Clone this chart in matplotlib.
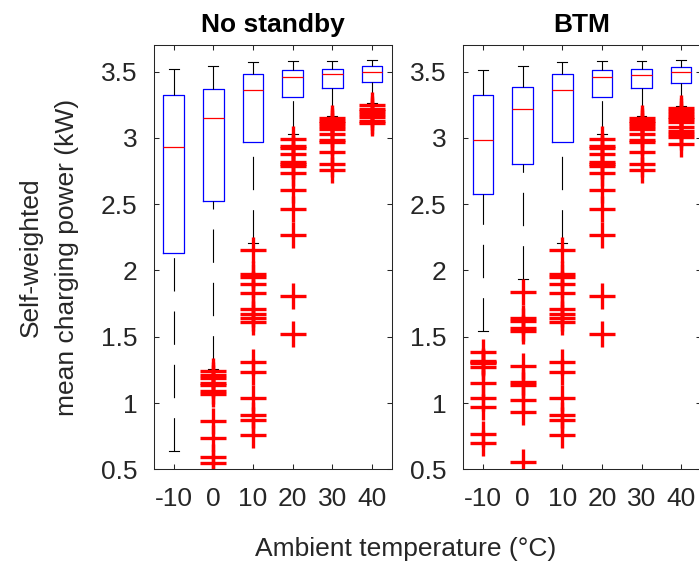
import matplotlib
matplotlib.use("Agg")
import matplotlib.pyplot as plt
import numpy as np

plt.rcParams['font.family'] = ['Liberation Sans', 'DejaVu Sans']

# ambient temperature groups
temps = [-10, 0, 10, 20, 30, 40]
yticks = [0.5, 1, 1.5, 2, 2.5, 3, 3.5]
ytick_labels = ['0.5', '1', '1.5', '2', '2.5', '3', '3.5']

# No standby
ns_q1 = [2.13, 2.52, 2.97, 3.31, 3.375, 3.42]
ns_med = [2.93, 3.15, 3.36, 3.455, 3.48, 3.50]
ns_q3 = [3.32, 3.37, 3.48, 3.51, 3.52, 3.54]
ns_lo = [0.64, 1.26, 2.21, 3.03, 3.167, 3.26]
ns_hi = [3.52, 3.54, 3.57, 3.58, 3.58, 3.585]
ns_out = [
    [],
    [1.245, 1.215, 1.19, 1.15, 1.134, 1.094, 1.068, 0.867, 0.74, 0.596, 0.55],
    [2.155, 1.97, 1.95, 1.90, 1.83, 1.71, 1.67, 1.64, 1.61, 1.31, 1.235, 1.04, 0.91, 0.874, 0.76],
    [2.99, 2.94, 2.92, 2.875, 2.82, 2.80, 2.785, 2.735, 2.61, 2.46, 2.27, 1.81, 1.52],
    [3.15, 3.13, 3.11, 3.09, 3.07, 3.03, 2.98, 2.965, 2.89, 2.805, 2.755],
    [3.245, 3.22, 3.20, 3.18, 3.16, 3.13, 3.11],
]

# BTM
btm_q1 = [2.58, 2.80, 2.97, 3.31, 3.374, 3.414]
btm_med = [2.98, 3.217, 3.36, 3.455, 3.477, 3.498]
btm_q3 = [3.32, 3.386, 3.48, 3.51, 3.52, 3.533]
btm_lo = [1.543, 1.932, 2.207, 3.03, 3.167, 3.24]
btm_hi = [3.515, 3.543, 3.57, 3.58, 3.58, 3.59]
btm_out = [
    [1.384, 1.316, 1.31, 1.30, 1.27, 1.15, 1.04, 0.967, 0.765, 0.697],
    [1.84, 1.644, 1.619, 1.568, 1.543, 1.278, 1.159, 1.134, 1.026, 0.93, 0.558],
    [2.155, 1.97, 1.95, 1.90, 1.83, 1.71, 1.67, 1.64, 1.61, 1.31, 1.235, 1.04, 0.91, 0.874, 0.76],
    [2.99, 2.94, 2.92, 2.875, 2.82, 2.80, 2.785, 2.735, 2.61, 2.46, 2.27, 1.81, 1.52],
    [3.15, 3.13, 3.11, 3.09, 3.07, 3.03, 2.98, 2.965, 2.89, 2.805, 2.755],
    [3.225, 3.20, 3.18, 3.16, 3.14, 3.12, 3.08, 3.05, 3.03, 3.005, 2.955],
]

ink = (0.15, 0.15, 0.15)
FS = 19


def make_stats(q1, med, q3, lo, hi, out):
    stats = []
    for i in range(len(q1)):
        stats.append(dict(q1=q1[i], med=med[i], q3=q3[i],
                          whislo=lo[i], whishi=hi[i], fliers=out[i]))
    return stats


def draw_panel(ax, stats, title):
    pos = np.arange(1, len(temps) + 1)
    res = ax.bxp(stats, positions=pos, widths=0.52, capwidths=0.25,
                 showfliers=True, manage_ticks=False,
                 boxprops=dict(color='blue', linewidth=0.9),
                 medianprops=dict(color='red', linewidth=0.9),
                 whiskerprops=dict(color='black', linewidth=0.8,
                                   linestyle=(0, (30, 18))),
                 capprops=dict(color='black', linewidth=0.8),
                 flierprops=dict(marker='+', markersize=18.5,
                                 markeredgecolor='red', markeredgewidth=2.4,
                                 linestyle='none'))
    # matlab starts the dash pattern at the whisker end
    for ln in res['whiskers']:
        x, y = ln.get_data()
        ln.set_data(np.asarray(x)[::-1], np.asarray(y)[::-1])

    ax.set_xlim(0.5, 6.5)
    ax.set_ylim(0.5, 3.7)
    ax.set_xticks(pos)
    ax.set_xticklabels([str(t) for t in temps])
    ax.set_yticks(yticks)
    ax.set_yticklabels(ytick_labels)
    ax.tick_params(direction='in', length=3.6, width=0.75, top=True,
                   right=True, labelsize=FS, colors=ink)
    ax.tick_params(axis='y', pad=12)
    ax.tick_params(axis='x', pad=13)
    for s in ax.spines.values():
        s.set_color(ink)
        s.set_linewidth(0.75)
    ax.set_title(title, fontsize=FS, fontweight='bold', pad=9)


fig = plt.figure(figsize=(6.99, 5.66), dpi=100)
ax1 = fig.add_axes([0.2203, 0.1708, 0.340, 0.7497])
ax2 = fig.add_axes([0.6628, 0.1708, 0.340, 0.7497])

draw_panel(ax1, make_stats(ns_q1, ns_med, ns_q3, ns_lo, ns_hi, ns_out), 'No standby')
draw_panel(ax2, make_stats(btm_q1, btm_med, btm_q3, btm_lo, btm_hi, btm_out), 'BTM')

fig.text(0.070, 0.546, 'Self-weighted\nmean charging power (kW)', rotation=90,
         ha='center', va='center', fontsize=FS, color=ink, linespacing=1.6)
fig.text(0.581, 0.030, 'Ambient temperature (°C)', ha='center', va='center',
         fontsize=FS, color=ink)

fig.savefig('out.png', dpi=100)
